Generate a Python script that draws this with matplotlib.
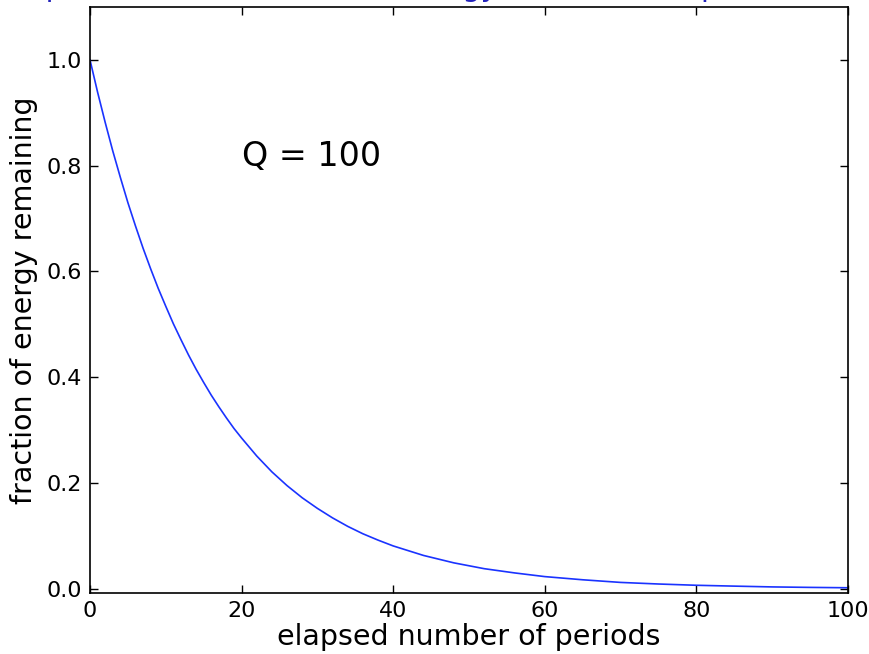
import matplotlib
matplotlib.use("Agg")
import matplotlib.pyplot as plt

# values
periods = [0, 1, 2, 3, 4, 5, 6, 7, 8, 9, 10, 11, 12, 13, 14, 15, 16, 17, 18, 19,
           20, 22, 24, 26, 28, 30, 32, 34, 36, 38,
           40, 44, 48, 52, 56, 60, 65, 70, 75, 80, 85, 90, 95, 100]
energy = [1.000, 0.939, 0.882, 0.828, 0.778, 0.730, 0.686, 0.644, 0.605, 0.568,
          0.534, 0.501, 0.471, 0.442, 0.415, 0.390, 0.366, 0.344, 0.323, 0.303,
          0.285, 0.251, 0.221, 0.195, 0.172, 0.152, 0.134, 0.118, 0.104, 0.092,
          0.081, 0.063, 0.049, 0.038, 0.030, 0.023, 0.017, 0.012, 0.009, 0.0066,
          0.0050, 0.0035, 0.0026, 0.0019]
xticks = [0, 20, 40, 60, 80, 100]
yticks = [0.0, 0.2, 0.4, 0.6, 0.8, 1.0]
annotation = "Q = 100"
slide_title = "Exponential loss of stored energy with time (in periods)"

fig = plt.figure(figsize=(8.7, 6.54), dpi=100)
ax = fig.add_axes([90/870, 1 - 593/654, (848 - 90)/870, (593 - 7)/654])

ax.plot(periods, energy, color=(0.1, 0.2, 1.0), linewidth=1.2)
ax.set_xlim(0, 100)
ax.set_ylim(-0.008, 1.1)
ax.set_xticks(xticks)
ax.set_yticks(yticks)
ax.set_yticklabels([f"{v:.1f}" for v in yticks])
ax.tick_params(direction="in", top=True, right=True, length=6, width=1,
               labelsize=16, pad=6)
for s in ax.spines.values():
    s.set_linewidth(1.2)

ax.set_xlabel("elapsed number of periods", fontsize=20.5, labelpad=1)
ax.set_ylabel("fraction of energy remaining", fontsize=20.5, labelpad=6)
ax.text(20, 0.8, annotation, fontsize=24, ha="left", va="baseline")

fig.text(10/870, 1 + 4/654, slide_title, color="#2222bb", fontsize=21,
         ha="left", va="baseline")

fig.savefig("out.png", dpi=100)
